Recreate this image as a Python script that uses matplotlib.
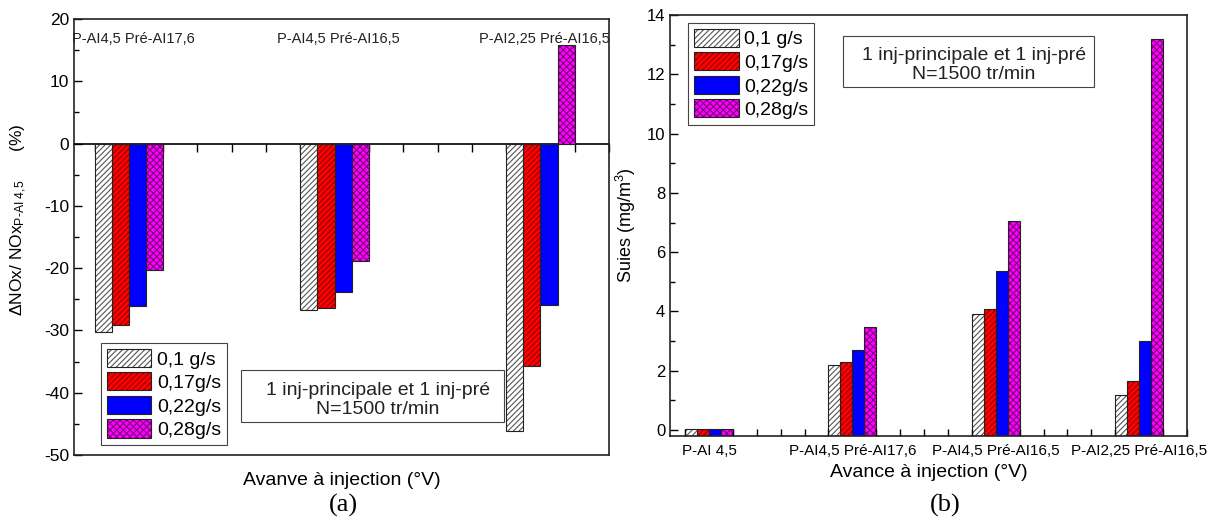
import numpy as np
import matplotlib
matplotlib.use('Agg')
import matplotlib.pyplot as plt
from matplotlib.ticker import MultipleLocator, FixedLocator
from matplotlib.patches import Rectangle

plt.rcParams['font.family'] = ['Liberation Sans', 'DejaVu Sans']
plt.rcParams['mathtext.fontset'] = 'custom'
plt.rcParams['mathtext.rm'] = 'Liberation Sans'
plt.rcParams['mathtext.it'] = 'Liberation Sans:italic'
plt.rcParams['axes.unicode_minus'] = False
plt.rcParams['hatch.linewidth'] = 0.8

# series (debit)
series = ['0,1 g/s', '0,17g/s', '0,22g/s', '0,28g/s']

# (a) variation de NOx (%)
cat_a = ['P-AI4,5 Pré-AI17,6', 'P-AI4,5 Pré-AI16,5', 'P-AI2,25 Pré-AI16,5']
nox_01 = [-30.3, -26.7, -46.2]
nox_017 = [-29.2, -26.4, -35.7]
nox_022 = [-26.0, -23.8, -25.9]
nox_028 = [-20.3, -18.9, 15.9]

# (b) suies (mg/m3)
cat_b = ['P-AI 4,5', 'P-AI4,5 Pré-AI17,6', 'P-AI4,5 Pré-AI16,5', 'P-AI2,25 Pré-AI16,5']
suies_01 = [0.03, 2.2, 3.92, 1.18]
suies_017 = [0.03, 2.29, 4.1, 1.67]
suies_022 = [0.03, 2.71, 5.35, 2.99]
suies_028 = [0.03, 3.48, 7.05, 13.2]

faces = ['white', '#ff0000', '#0000ff', '#ff00ff']
hcols = ['#555555', '#8c0000', '#0000cc', '#7a007a']
hatches = ['//////', '//////', '', 'xxxxx']
bw = 1 / 12

W, H = 1221, 520
fig = plt.figure(figsize=(W / 100, H / 100), dpi=100)


def draw_bars(ax, data, base):
    handles = []
    for k, vals in enumerate(data):
        x = np.arange(len(vals)) + k * bw
        hgt = np.array(vals) - base
        h1 = ax.bar(x, hgt, bw, bottom=base, align='edge', color=faces[k],
                    hatch=hatches[k], edgecolor=hcols[k], linewidth=0)
        h2 = ax.bar(x, hgt, bw, bottom=base, align='edge', fill=False,
                    edgecolor='#222222', linewidth=0.8)
        handles.append((h1, h2))
    return handles


def minor_positions(n):
    # ticks every 1/6 of a category, skipping those hidden inside bar groups
    pos = np.arange(0, n * 6 + 1) / 6
    return [p for p in pos if not (abs(p % 1 - 1 / 6) < 1e-6)]


def style(ax):
    for s in ax.spines.values():
        s.set_linewidth(1.2)
        s.set_color('#222222')


# ---------- (a) ----------
ax1 = fig.add_axes([74 / W, (H - 455) / H, 535 / W, 436 / H])
h_a = draw_bars(ax1, [nox_01, nox_017, nox_022, nox_028], 0)
ax1.set_xlim(-0.1, 2.5)
ax1.set_ylim(-50, 20)
ax1.set_xticks([])
ax1.yaxis.set_major_locator(MultipleLocator(10))
ax1.yaxis.set_minor_locator(MultipleLocator(5))
ax1.tick_params(axis='y', which='major', direction='in', length=6, width=1, labelsize=12.5)
ax1.tick_params(axis='y', which='minor', direction='in', length=3.5, width=1)
style(ax1)

zero = ax1.secondary_xaxis(50 / 70)
zero.set_alignment('bottom')
zero.xaxis.set_major_locator(FixedLocator(minor_positions(3)))
zero.set_xticklabels([])
zero.tick_params(direction='out', length=6, width=1)
zero.spines['bottom'].set_linewidth(1.2)

for i, c in enumerate(cat_a):
    ax1.text(i + 2 * bw + 0.02, 0.954, c, transform=ax1.get_xaxis_transform(),
             ha='center', va='center', fontsize=10.5, color='#222222')

ax1.set_ylabel('ΔNOx/ NOx$_{\\text{P-AI 4,5}}$      (%)', fontsize=12.5)
ax1.yaxis.set_label_coords(-0.085, 0.54)
ax1.set_xlabel('Avanve à injection (°V)', fontsize=14, labelpad=12)

leg1 = ax1.legend(h_a, series, loc='lower left', bbox_to_anchor=(0.05, 0.023),
                  borderaxespad=0, fontsize=14, handlelength=2.3, handleheight=1.05,
                  labelspacing=0.2, handletextpad=0.3, borderpad=0.3,
                  fancybox=False, edgecolor='#444444', framealpha=1)
leg1.get_frame().set_linewidth(0.8)

ax1.add_patch(Rectangle((0.312, 0.0757), 0.492, 0.119, transform=ax1.transAxes,
                        fc='white', ec='#444444', lw=0.8, zorder=4))
ax1.text(0.568, 0.126, '1 inj-principale et 1 inj-pré\nN=1500 tr/min',
         transform=ax1.transAxes, ha='center', va='center', fontsize=14,
         linespacing=1.15, zorder=5, color='#222222')

# ---------- (b) ----------
ax2 = fig.add_axes([670 / W, (H - 436) / H, 517 / W, 421 / H])
h_b = draw_bars(ax2, [suies_01, suies_017, suies_022, suies_028], -0.2)
ax2.set_xlim(-0.105, 3.5)
ax2.set_ylim(-0.2, 14)
ax2.set_xticks(np.arange(len(cat_b)) + 2 * bw)
ax2.set_xticklabels(cat_b)
ax2.xaxis.set_minor_locator(FixedLocator(minor_positions(4)))
ax2.tick_params(axis='x', which='major', length=0, pad=6, labelsize=11)
ax2.tick_params(axis='x', which='minor', direction='in', length=5, width=1)
ax2.yaxis.set_major_locator(MultipleLocator(2))
ax2.yaxis.set_minor_locator(MultipleLocator(1))
ax2.tick_params(axis='y', which='major', direction='in', length=6, width=1, labelsize=12)
ax2.tick_params(axis='y', which='minor', direction='in', length=3.5, width=1)
style(ax2)

ax2.set_ylabel('Suies (mg/m$^3$)', fontsize=13)
ax2.yaxis.set_label_coords(-0.062, 0.5)
ax2.set_xlabel('Avance à injection (°V)', fontsize=14, labelpad=4)

leg2 = ax2.legend(h_b, series, loc='upper left', bbox_to_anchor=(0.035, 0.981),
                  borderaxespad=0, fontsize=14, handlelength=2.3, handleheight=1.05,
                  labelspacing=0.2, handletextpad=0.3, borderpad=0.3,
                  fancybox=False, edgecolor='#444444', framealpha=1)
leg2.get_frame().set_linewidth(0.8)

ax2.add_patch(Rectangle((0.335, 0.829), 0.485, 0.121, transform=ax2.transAxes,
                        fc='white', ec='#444444', lw=0.8, zorder=4))
ax2.text(0.588, 0.882, '1 inj-principale et 1 inj-pré\nN=1500 tr/min',
         transform=ax2.transAxes, ha='center', va='center', fontsize=14,
         linespacing=1.15, zorder=5, color='#222222')

# captions
fig.text(343 / W, 1 - 505 / H, '(a)', family='Liberation Serif', fontsize=19,
         ha='center', va='center')
fig.text(945 / W, 1 - 505 / H, '(b)', family='Liberation Serif', fontsize=19,
         ha='center', va='center')

fig.savefig('out.png', dpi=100)
